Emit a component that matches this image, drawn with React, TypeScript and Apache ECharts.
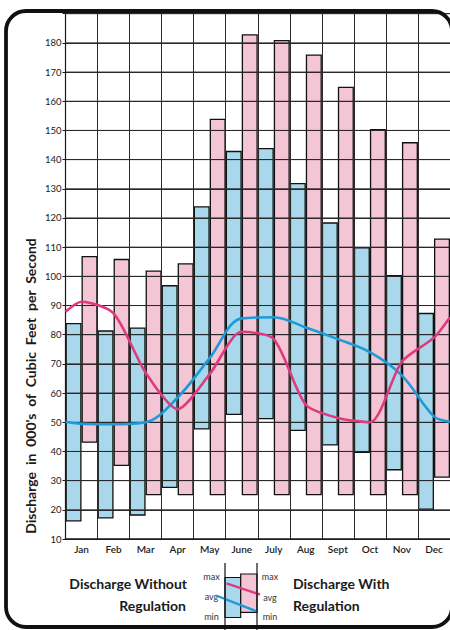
import React, { useEffect, useRef } from "react";
import * as echarts from "echarts";

const months = ["Jan", "Feb", "Mar", "Apr", "May", "June", "July", "Aug", "Sept", "Oct", "Nov", "Dec"];
// Discharge without regulation (blue bars)
const withoutMin = [16, 17, 18, 27.5, 47.5, 52.5, 51, 47, 42, 39.5, 33.5, 20];
const withoutMax = [84, 81.5, 82.5, 97, 124, 143, 144, 132, 118.5, 110, 100.5, 87.5];
// Discharge with regulation (pink bars)
const withMin = [43, 35, 25, 25, 25, 25, 25, 25, 25, 25, 25, 31];
const withMax = [107, 106, 102, 104.5, 154, 183, 181, 176, 165, 150.5, 146, 113];
// Average curves, positions in month units (0 = left edge, 12 = right edge)
const avgX = [0, 0.5, 1.5, 2.5, 3.5, 4.5, 5.5, 6.5, 7.5, 8.5, 9.5, 10.5, 11.5, 12];
const withoutAvg = [50.2, 49.5, 49.3, 50, 58.5, 72, 85.6, 86, 82.5, 78.5, 74, 66, 52, 50.2];
const withAvg = [87.9, 91.3, 87.3, 67, 54.5, 66.5, 81, 78.5, 56, 51.5, 50, 70.8, 79, 86];
const yMin = 10;
const yMax = 190;
const yStep = 10;
// Horizontal rules, drawn over the bars as in the original
const gridValues = [20, 30, 40, 50, 60, 70, 80, 90, 100, 110, 120, 130, 140, 150, 160, 170, 180, 190];

const BLUE = "#a9d8ec";
const PINK = "#f3c5d5";
const BLUE_LINE = "#1c9bd8";
const PINK_LINE = "#e03a7e";
const INK = "#1a1a1a";
const FONT = "Lato";

export default function App() {
  const ref = useRef<HTMLDivElement>(null);
  useEffect(() => {
    document.body.style.margin = "0";
    const chart = echarts.init(ref.current!, null, { renderer: "svg" });
    const rangeW = withoutMax.map((v, i) => +(v - withoutMin[i]).toFixed(2));
    const rangeR = withMax.map((v, i) => +(v - withMin[i]).toFixed(2));
    const barStyle = (c: string) => ({ color: c, borderColor: "#111", borderWidth: 1.3 });
    const legendLabel = (x: number, y: number, t: string) => ({
      type: "text",
      x,
      y,
      z: 20,
      style: { text: t, fill: "#333", font: `9px ${FONT}`, textAlign: "center", textVerticalAlign: "middle" },
    });
    chart.setOption({
      animation: false,
      backgroundColor: "#fff",
      grid: { left: 65.5, top: 13.7, width: 387.5, height: 525.3 },
      xAxis: [
        {
          type: "category",
          data: months,
          boundaryGap: true,
          z: 5,
          axisLine: { lineStyle: { color: INK, width: 1.6 } },
          axisTick: { show: false },
          axisLabel: { color: INK, fontFamily: FONT, fontSize: 10, fontWeight: 600, margin: 5, interval: 0 },
          splitLine: { show: true, interval: 0, lineStyle: { color: "#2a2a2a", width: 1 } },
        },
        { type: "value", min: 0, max: 12, show: false },
      ],
      yAxis: {
        type: "value",
        min: yMin,
        max: yMax,
        interval: yStep,
        z: 5,
        axisLine: { show: true, lineStyle: { color: INK, width: 1.2 } },
        axisTick: { show: true, length: 3, lineStyle: { color: INK } },
        axisLabel: {
          color: INK,
          fontFamily: FONT,
          fontSize: 9.5,
          margin: 4,
          formatter: (v: number) => (v === yMax ? "" : String(v)),
        },
        splitLine: { show: true, lineStyle: { color: "#2a2a2a", width: 1 } },
      },
      series: [
        { type: "bar", stack: "w", data: withoutMin, itemStyle: { color: "transparent" }, barGap: "0%", barCategoryGap: "0%", silent: true },
        { type: "bar", stack: "w", data: rangeW, itemStyle: barStyle(BLUE), barGap: "0%", barCategoryGap: "0%" },
        { type: "bar", stack: "r", data: withMin, itemStyle: { color: "transparent" }, barGap: "0%", barCategoryGap: "0%", silent: true },
        { type: "bar", stack: "r", data: rangeR, itemStyle: barStyle(PINK), barGap: "0%", barCategoryGap: "0%" },
        {
          type: "custom",
          xAxisIndex: 1,
          z: 6,
          silent: true,
          data: gridValues.map((v) => [0, v]),
          renderItem: (_p: any, api: any) => {
            const v = api.value(1);
            const a = api.coord([0, v]);
            const b = api.coord([12, v]);
            return {
              type: "line",
              shape: { x1: a[0], y1: a[1], x2: b[0], y2: b[1] },
              style: { stroke: "#2a2a2a", lineWidth: 1 },
            };
          },
        },
        {
          type: "line",
          xAxisIndex: 1,
          z: 10,
          smooth: 0.35,
          symbol: "none",
          data: avgX.map((x, i) => [x, withoutAvg[i]]),
          lineStyle: { color: BLUE_LINE, width: 2.6 },
        },
        {
          type: "line",
          xAxisIndex: 1,
          z: 10,
          smooth: 0.25,
          symbol: "none",
          data: avgX.map((x, i) => [x, withAvg[i]]),
          lineStyle: { color: PINK_LINE, width: 2.6 },
        },
      ],
      graphic: [
        {
          type: "text",
          x: 30,
          y: 386,
          rotation: Math.PI / 2,
          z: 20,
          style: {
            text: "Discharge  in  000's  of  Cubic  Feet  per  Second",
            fill: INK,
            font: `bold 14px ${FONT}`,
            textAlign: "center",
            textVerticalAlign: "middle",
          },
        },
        {
          type: "rect",
          z: 30,
          shape: { x: 6, y: 11, width: 446, height: 616, r: 20 },
          style: { fill: "none", stroke: "#111", lineWidth: 3.8 },
        },
        { type: "text", x: 187, y: 583, z: 20, style: { text: "Discharge Without", fill: INK, font: `bold 14px ${FONT}`, textAlign: "right", textVerticalAlign: "middle" } },
        { type: "text", x: 186, y: 605, z: 20, style: { text: "Regulation", fill: INK, font: `bold 14px ${FONT}`, textAlign: "right", textVerticalAlign: "middle" } },
        { type: "text", x: 293, y: 583, z: 20, style: { text: "Discharge With", fill: INK, font: `bold 14px ${FONT}`, textAlign: "left", textVerticalAlign: "middle" } },
        { type: "text", x: 293, y: 605, z: 20, style: { text: "Regulation", fill: INK, font: `bold 14px ${FONT}`, textAlign: "left", textVerticalAlign: "middle" } },
        legendLabel(211.5, 576, "max"),
        legendLabel(211.5, 596.5, "avg"),
        legendLabel(211.5, 616.5, "min"),
        legendLabel(270, 576, "max"),
        legendLabel(270, 597, "avg"),
        legendLabel(270, 616.5, "min"),
        { type: "rect", z: 20, shape: { x: 225, y: 577.5, width: 15.7, height: 40 }, style: { fill: BLUE, stroke: "#111", lineWidth: 1.2 } },
        { type: "rect", z: 21, shape: { x: 240.7, y: 574, width: 16.3, height: 38.3 }, style: { fill: PINK, stroke: "#111", lineWidth: 1.2 } },
        { type: "line", z: 22, shape: { x1: 226.5, y1: 583.3, x2: 260, y2: 594.5 }, style: { stroke: PINK_LINE, lineWidth: 2.4 } },
        { type: "line", z: 22, shape: { x1: 216, y1: 595.5, x2: 257, y2: 611.5 }, style: { stroke: BLUE_LINE, lineWidth: 2.4 } },
        { type: "line", z: 23, shape: { x1: 225, y1: 563, x2: 225, y2: 630 }, style: { stroke: "#111", lineWidth: 1.2 } },
        { type: "line", z: 23, shape: { x1: 257, y1: 563, x2: 257, y2: 630 }, style: { stroke: "#111", lineWidth: 1.2 } },
      ],
    });
    return () => chart.dispose();
  }, []);
  return <div ref={ref} style={{ position: "absolute", left: 0, top: 0, width: 450, height: 630 }} />;
}
